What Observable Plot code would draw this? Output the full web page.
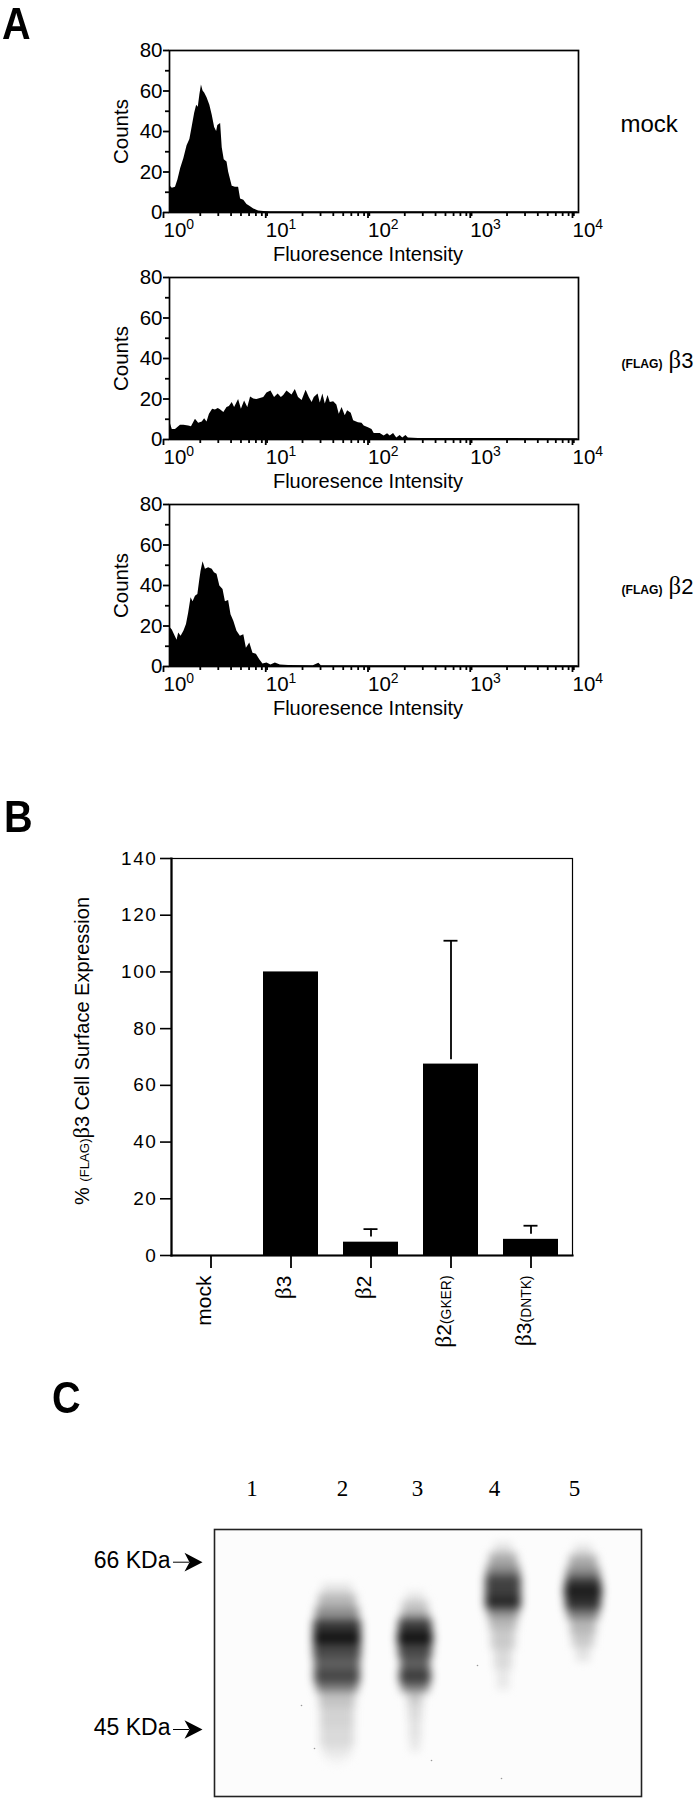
<!DOCTYPE html>
<html><head><meta charset="utf-8">
<style>
html,body{margin:0;padding:0;background:#fff;}
#page{position:relative;width:695px;height:1800px;overflow:hidden;font-family:"Liberation Sans",Arial,sans-serif;}
#page svg{position:absolute;left:0;overflow:visible;}
.letter{position:absolute;font-weight:700;font-size:44px;line-height:44px;color:#000;transform:scaleX(.9);transform-origin:left top;}
</style>
<script src="https://cdn.jsdelivr.net/npm/d3@7"></script>
<script src="https://cdn.jsdelivr.net/npm/@observablehq/plot@0.6"></script>
</head><body><div id="page"></div>
<script>
// ---- Panel A: flow cytometry histograms (channel 0-1023, 256 channels per decade)
const mockChannels = [0,2,7,15,21,28,36,44,51,57,63,68,72,76,80,84,88,94,101,107,113,118,121,128,132,137,144,148,157,165,173,178,186,194,202,211,223,236,253,400,1023];
const mockCounts   = [40,13,12,12.5,16,21.7,26.7,33,36,42.5,49,53,52,58,63,60,59,56.7,53,48,42,40,43,44,32,26,25,20,13,12.5,12.5,6.7,6,4,3,1.7,.8,.5,.4,.4,.4];
const beta3Channels = [0,2,7,15,27.5,36,48,55,65,73,82,88,94,100,108,115,122,127.5,136,144,150,157,163,173,180,188,196,203,211,219,227.5,236,244,254,263,272,280,286,294,306.7,315,323,332,342,350,357,362.5,372,377.5,384,390,397,402.5,411,419,425,432,440,446,455,461,473,482,487.5,498,507,512.5,527.5,537.5,546,552.5,561,569,577.5,584,592,598,623,1023];
const beta3Counts   = [9,8,5,5,7,7,6.7,6.3,10,8,8.7,10.3,8.7,12.5,15,14.6,15.3,14.7,13.3,15.8,16.3,18.3,15.8,19.7,15,19,15.8,21,20,19.7,20.3,20.8,23,24,20.8,22.5,20.8,21.7,24,22,24.7,20.8,19.2,24.3,20.8,18.3,20.8,22.5,18,22.5,17.5,21.7,18.3,18.7,17,12.5,15.8,11.7,14.2,13,9.2,8.3,8,6.7,5.8,5,3,3,1.7,2.8,1.7,3,.8,2,.8,2,.7,.5,.4];
const beta2Channels = [0,2.5,7,12.5,19,23,29,36,42.5,48,54,59,65,71,76,79,84,90,98,107,112.5,119,126,134,140,148,154,161,169,177.5,186,192.5,201,209,217.5,226,234,244,254,265,277.5,298,360,374,380,1023];
const beta2Counts   = [53,19,18,15.7,13,16.5,15,17.4,20.7,26.4,34,32,34.7,35.5,43,47,51.7,48,48.8,48,46.3,45.5,39.7,38,32,32.6,25.6,22.3,17.4,15,15.7,9,11.6,6.6,6,3.3,1.2,1.7,.8,1.7,.8,.5,.4,1.6,.4,.4];
const decades = [1,10,100,1000,10000];
const minorDecadeTicks = [2,3,4,5,6,7,8,9].flatMap(m => [1,10,100,1000].map(d => m*d));
const countMajor = [0,20,40,60,80];
const countMinor = [10,30,50,70];

// ---- Panel B: bars
const constructs = ["mock","β3","β2","β2(GKER)","β3(DNTK)"];
const constructLabels = ["mock","{bβ}3","{bβ}2","{bβ}2{s(GKER)}","{bβ}3{s(DNTK)}"];
const expression = [0,100,4.7,67.5,5.7];
const errorFrom = [null,null,6.5,69,7.5];
const errorTo = [null,null,9.3,111,10.5];

// ---- Panel C: gel lanes; each row = [top, bottom, half width, darkness] in gel pixels
const laneNames = [2,3,4,5];
const laneCenters = [123,201,289,369];
const lane2Tops = [55,65,78,91,103,115,128,141,154,163,178,198,218,228,235];
const lane2Half = [15,19,22,24,24,24,23,23,21,18,17,17,14,8];
const lane2Dark = [.12,.3,.47,.85,1,.78,.68,.78,.55,.25,.18,.15,.09,.04];
const lane3Tops = [63,72,84,91,103,115,128,141,154,163,175,190,210,222];
const lane3Half = [9,13,15,17,18,17,15,16,14,8,7,6,5];
const lane3Dark = [.1,.25,.45,.84,1,.78,.68,.82,.55,.22,.15,.12,.1];
const lane4Tops = [14,24,36,46,58,68,79,88,100,120,140,160];
const lane4Half = [9,14,17,18,18,18,16,14,12,9,6];
const lane4Dark = [.12,.35,.5,.8,.82,.92,.5,.3,.22,.15,.1];
const lane5Tops = [16,26,38,48,56,68,80,90,105,118,132];
const lane5Half = [9,14,17,18,19,18,16,13,11,7];
const lane5Dark = [.12,.35,.5,.82,.96,.88,.55,.3,.22,.12];
const laneNumbers = ["1","2","3","4","5"];
const laneNumberPos = [37.6,128,203,280,360];
const markerLabels = ["66 KDa","45 KDa"];
const markerPos = [32.7,200];
const specksX = [87,100,217,263,287];
const specksY = [176,219,231,136,249];

// ---- helpers
const page = document.getElementById("page");
function rich(svg){
  svg.querySelectorAll("text").forEach(t=>{
    const s=t.textContent;
    if(!s.includes("{")) return;
    t.textContent="";
    const re=/\{([\^sSb])([^}]*)\}|([^{]+)/g; let m;
    while((m=re.exec(s))){
      const ts=document.createElementNS("http://www.w3.org/2000/svg","tspan");
      if(m[3]){ts.textContent=m[3];}
      else{
        ts.textContent=m[2];
        if(m[1]==="^"){ts.setAttribute("font-size","0.68em");ts.setAttribute("dy","-0.55em");}
        if(m[1]==="s"){ts.setAttribute("font-size","0.66em");}
        if(m[1]==="S"){ts.setAttribute("font-size","0.55em");ts.setAttribute("font-weight","700");}
        if(m[1]==="b"){ts.setAttribute("font-family","Liberation Serif");ts.setAttribute("font-size","1.12em");}
      }
      t.appendChild(ts);
    }
  });
}
function place(plot,top){plot.style.top=top+"px";rich(plot);page.appendChild(plot);return plot;}
const baseStyle={fontFamily:"Liberation Sans",fontSize:"18px",background:"transparent",color:"#000"};

function histogram(channels,counts,top,side){
  const rows=channels.map((c,i)=>({x:Math.pow(10,c/256),y:counts[i]}));
  return place(Plot.plot({
    width:695,height:270,marginLeft:169,marginRight:117,marginTop:50,marginBottom:58,
    style:baseStyle,
    x:{type:"log",domain:[1,10000]},
    y:{domain:[0,80]},
    marks:[
      Plot.areaY(rows,{x:"x",y:"y",fill:"#000"}),
      Plot.frame({stroke:"#000",strokeWidth:1.7}),
      Plot.axisY({ticks:countMinor,tickSize:4,text:null,label:null,strokeWidth:1.8}),
      Plot.axisY({ticks:countMajor,tickSize:6,tickPadding:1,label:"Counts",labelAnchor:"center",labelArrow:"none",labelOffset:56,fontSize:20.5,strokeWidth:1.8,tickFormat:d=>d}),
      Plot.axisX({ticks:minorDecadeTicks,tickSize:4,text:null,label:null,strokeWidth:1.8}),
      Plot.axisX({ticks:decades,tickSize:6,tickPadding:4,label:null,fontSize:20.5,strokeWidth:1.8,
        tickFormat:d=>"10{^"+Math.round(Math.log10(d))+"}",textAnchor:"start",dx:-6}),
      Plot.text(["Fluoresence Intensity"],{frameAnchor:"bottom",dx:-6,dy:42,lineAnchor:"middle",fontSize:20}),
      Plot.text([side.label],{frameAnchor:"right",dx:side.dx,dy:side.dy,textAnchor:"start",lineAnchor:"middle",fontSize:side.size})
    ]
  }),top);
}
histogram(mockChannels,mockCounts,0,{label:"mock",dx:42,dy:-7,size:24});
histogram(beta3Channels,beta3Counts,227,{label:"{S(FLAG)} {bβ}3",dx:43,dy:2,size:22});
histogram(beta2Channels,beta2Counts,454,{label:"{S(FLAG)} {bβ}2",dx:43,dy:1,size:22});

// Panel B
const barRows=constructs.map((c,i)=>({c,label:constructLabels[i],v:expression[i],lo:errorFrom[i],hi:errorTo[i]}));
const errRows=barRows.filter(d=>d.hi!=null);
const b=place(Plot.plot({
  width:695,height:560,marginLeft:171,marginRight:123,marginTop:58,marginBottom:105,
  style:baseStyle,
  x:{type:"band",domain:constructs,paddingInner:0.3125,paddingOuter:0.156,align:.5,range:[170.5,570.5]},
  y:{domain:[0,140]},
  marks:[
    Plot.barY(barRows,{x:"c",y:"v",fill:"#000"}),
    Plot.ruleX(errRows,{x:"c",y1:"lo",y2:"hi",stroke:"#000",strokeWidth:1.8}),
    Plot.tickY(errRows,{x:"c",y:"hi",stroke:"#000",strokeWidth:1.8,inset:20.5}),
    Plot.frame({stroke:"#000",strokeWidth:1.2}),
    Plot.frame({anchor:"left",stroke:"#000",strokeWidth:2.2}),
    Plot.frame({anchor:"bottom",stroke:"#000",strokeWidth:2.2}),
    Plot.axisY({ticks:d3.range(0,141,20),tickSize:11,tickPadding:3,label:null,strokeWidth:1.6,fontSize:19,tickFormat:d=>d}),
    Plot.axisX({tickSize:13,text:null,label:null,strokeWidth:1.8}),
    Plot.text(barRows,{x:"c",text:"label",frameAnchor:"bottom",dy:20,rotate:-90,textAnchor:"end",lineAnchor:"bottom",fontSize:21}),
    Plot.text(["% {s(FLAG)}{bβ}3 Cell Surface Expression"],{frameAnchor:"left",dx:-83,dy:-6,rotate:-90,textAnchor:"middle",lineAnchor:"bottom",fontSize:20})
  ]
}),800);
b.querySelectorAll('[aria-label="y-axis tick label"] text').forEach(t=>t.setAttribute("letter-spacing","1.6"));

// Panel C
const laneTables=[[lane2Tops,lane2Half,lane2Dark],[lane3Tops,lane3Half,lane3Dark],[lane4Tops,lane4Half,lane4Dark],[lane5Tops,lane5Half,lane5Dark]];
const gelRows=laneTables.flatMap(([t,h,k],l)=>h.map((hw,i)=>({lane:laneNames[l],x1:laneCenters[l]-hw,x2:laneCenters[l]+hw,y1:t[i],y2:t[i+1],dark:k[i]})));
const markers=markerLabels.map((label,i)=>({label,y:markerPos[i]}));
const stealth={draw(ctx,l){ctx.moveTo(0,0);ctx.lineTo(l*.52,l*1.0);ctx.lineTo(0,l*.72);ctx.lineTo(-l*.52,l*1.0);ctx.closePath();}};
place(Plot.plot({
  width:695,height:360,marginLeft:214,marginRight:54,marginTop:89,marginBottom:4,
  style:baseStyle,
  x:{axis:null,domain:[0,427]},
  y:{axis:null,domain:[267,0]},
  color:{type:"linear",domain:[0,1],range:["#fdfdfd","#141414"]},
  marks:[
    Plot.frame({fill:"#fcfcfc"}),
    Plot.rect(gelRows,{x1:"x1",x2:"x2",y1:"y1",y2:"y2",fill:"dark",imageFilter:"blur(4.5px)"}),
    Plot.dot(specksX.map((x,i)=>({x,y:specksY[i]})),{x:"x",y:"y",r:.8,fill:"#999"}),
    Plot.frame({stroke:"#222",strokeWidth:1.6}),
    Plot.text(laneNumbers,{x:(d,i)=>laneNumberPos[i],y:-41,text:d=>d,fontFamily:"Liberation Serif",fontSize:23}),
    Plot.text(markers,{x:0,y:"y",text:"label",dx:-44,dy:-2,textAnchor:"end",fontSize:23}),
    Plot.ruleY(markers,{y:"y",x1:-41,x2:-25,stroke:"#000",strokeWidth:1}),
    Plot.vector(markers,{x:-12,y:"y",length:18,rotate:90,anchor:"start",shape:stealth,fill:"#000",stroke:"none"})
  ]
}),1440);

// Panel letters
[["A",2,2],["B",4,795],["C",52,1376]].forEach(([s,x,y])=>{
  const d=document.createElement("div");d.className="letter";d.textContent=s;d.style.left=x+"px";d.style.top=y+"px";page.appendChild(d);
});
</script></body></html>
